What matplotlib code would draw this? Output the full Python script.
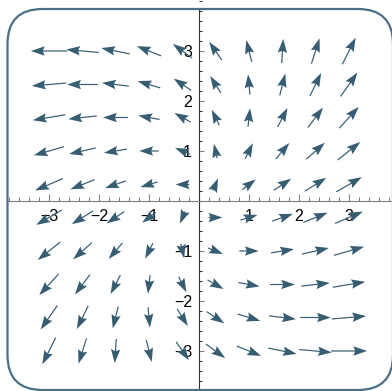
import numpy as np
import matplotlib
matplotlib.use("Agg")
import matplotlib.pyplot as plt
from matplotlib.patches import FancyBboxPatch
from matplotlib.ticker import FixedLocator, MultipleLocator

plt.rcParams['font.family'] = ['Liberation Sans', 'DejaVu Sans']

# sample points, shared by x and y
grid = [-3.0, -2.33, -1.67, -1.0, -0.33, 0.33, 1.0, 1.67, 2.33, 3.0]

# field components, one row per y value (y = -3 first), columns follow x
u_rows = [
    [-3.0, -1.7, -0.3, 1.0, 2.3, 3.7, 5.0, 6.3, 7.7, 9.0],
    [-3.7, -2.3, -1.0, 0.3, 1.7, 3.0, 4.3, 5.7, 7.0, 8.3],
    [-4.3, -3.0, -1.7, -0.3, 1.0, 2.3, 3.7, 5.0, 6.3, 7.7],
    [-5.0, -3.7, -2.3, -1.0, 0.3, 1.7, 3.0, 4.3, 5.7, 7.0],
    [-5.7, -4.3, -3.0, -1.7, -0.3, 1.0, 2.3, 3.7, 5.0, 6.3],
    [-6.3, -5.0, -3.7, -2.3, -1.0, 0.3, 1.7, 3.0, 4.3, 5.7],
    [-7.0, -5.7, -4.3, -3.0, -1.7, -0.3, 1.0, 2.3, 3.7, 5.0],
    [-7.7, -6.3, -5.0, -3.7, -2.3, -1.0, 0.3, 1.7, 3.0, 4.3],
    [-8.3, -7.0, -5.7, -4.3, -3.0, -1.7, -0.3, 1.0, 2.3, 3.7],
    [-9.0, -7.7, -6.3, -5.0, -3.7, -2.3, -1.0, 0.3, 1.7, 3.0],
]
v_rows = [
    [-6.0, -5.3, -4.7, -4.0, -3.3, -2.7, -2.0, -1.3, -0.7, 0.0],
    [-5.3, -4.7, -4.0, -3.3, -2.7, -2.0, -1.3, -0.7, 0.0, 0.7],
    [-4.7, -4.0, -3.3, -2.7, -2.0, -1.3, -0.7, 0.0, 0.7, 1.3],
    [-4.0, -3.3, -2.7, -2.0, -1.3, -0.7, 0.0, 0.7, 1.3, 2.0],
    [-3.3, -2.7, -2.0, -1.3, -0.7, 0.0, 0.7, 1.3, 2.0, 2.7],
    [-2.7, -2.0, -1.3, -0.7, 0.0, 0.7, 1.3, 2.0, 2.7, 3.3],
    [-2.0, -1.3, -0.7, 0.0, 0.7, 1.3, 2.0, 2.7, 3.3, 4.0],
    [-1.3, -0.7, 0.0, 0.7, 1.3, 2.0, 2.7, 3.3, 4.0, 4.7],
    [-0.7, 0.0, 0.7, 1.3, 2.0, 2.7, 3.3, 4.0, 4.7, 5.3],
    [0.0, 0.7, 1.3, 2.0, 2.7, 3.3, 4.0, 4.7, 5.3, 6.0],
]

tick_values = [-3, -2, -1, 1, 2, 3]
tick_labels = ["\u22123", "\u22122", "\u22121", "1", "2", "3"]

arrow_color = "#375d73"
frame_color = "#4b6f86"

fig = plt.figure(figsize=(3.92, 3.91), dpi=100)
ax = fig.add_axes([0, 0, 1, 1])
ax.set_xlim(-3.98, 3.86)
ax.set_ylim(-3.80, 4.02)
ax.set_aspect('auto')

X, Y = np.meshgrid(grid, grid)
U = np.array(u_rows)
V = np.array(v_rows)
mag = np.hypot(U, V)
mag[mag == 0] = 1e-9
# arrows keep a minimum size, then grow with the magnitude
shown = 0.22 + 0.056 * mag
ax.quiver(X, Y, U / mag * shown, V / mag * shown,
          pivot='middle', angles='xy', scale_units='xy', scale=1,
          units='dots', width=1.2, headwidth=7.8, headlength=11.5,
          headaxislength=10, minshaft=0.8, color=arrow_color, zorder=3)

# axes through the origin
for side in ['top', 'right']:
    ax.spines[side].set_visible(False)
ax.spines['left'].set_position('zero')
ax.spines['bottom'].set_position('zero')
ax.spines['bottom'].set_bounds(-3.83, 3.88)
ax.spines['left'].set_bounds(-3.78, 3.84)
ax.spines['bottom'].set_color('#808080')
ax.spines['left'].set_color('#333333')
ax.spines['bottom'].set_linewidth(0.8)
ax.spines['left'].set_linewidth(0.8)

ax.xaxis.set_major_locator(FixedLocator(tick_values))
ax.yaxis.set_major_locator(FixedLocator(tick_values))
ax.set_xticklabels(tick_labels)
ax.set_yticklabels(tick_labels)
ax.xaxis.set_minor_locator(MultipleLocator(0.2))
ax.yaxis.set_minor_locator(MultipleLocator(0.2))
ax.tick_params(axis='x', which='major', direction='in', length=5, width=0.8,
               color='#808080', labelsize=11.5, pad=6)
ax.tick_params(axis='x', which='minor', direction='in', length=3, width=0.8,
               color='#808080')
ax.tick_params(axis='y', which='major', direction='in', length=3.8, width=0.8,
               color='#808080', labelsize=11.5, pad=5)
ax.tick_params(axis='y', which='minor', direction='in', length=2.4, width=0.8,
               color='#333333')

# rounded outer frame
frame = FancyBboxPatch((-3.83, -3.78), 7.71, 7.62,
                       boxstyle="round,pad=0,rounding_size=0.7",
                       fill=False, ec=frame_color, lw=1.6, clip_on=False,
                       zorder=4)
ax.add_patch(frame)

fig.savefig("out.png", dpi=100)
